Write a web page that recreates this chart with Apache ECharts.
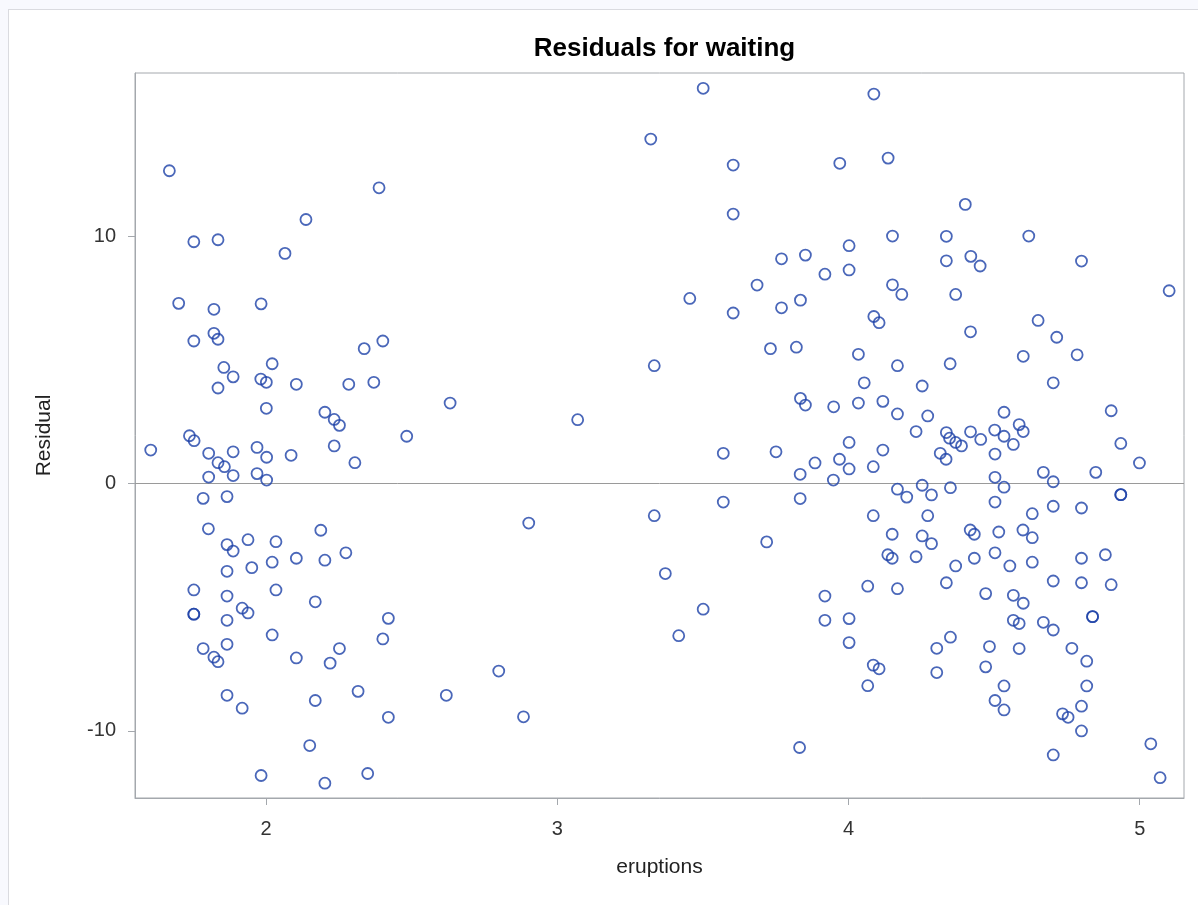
<!DOCTYPE html>
<html>
<head>
<meta charset="utf-8">
<title>Residuals for waiting</title>
<script src="https://cdn.jsdelivr.net/npm/echarts@6/dist/echarts.min.js"></script>
<style>
  html, body { margin: 0; padding: 0; background: #f8f9fe; overflow: hidden; }
  #panel { position: absolute; left: 8px; top: 9px; width: 1200px; height: 900px;
           background: #ffffff; border-left: 1px solid #dadbe0; border-top: 1px solid #dadbe0; }
  #chart { position: absolute; left: 0; top: 0; width: 1198px; height: 905px; }
</style>
</head>
<body>
<div id="panel"></div>
<div id="chart"></div>
<script>
// Eruption duration (minutes) for each observation
const eruptions = [
  1.668, 2.388, 2.137, 1.752, 1.835, 2.065, 1.700, 1.821, 1.983, 1.752,
  1.821, 1.835, 2.337, 2.401, 1.855, 1.887, 2.021, 1.982, 2.001, 2.104,
  2.284, 2.370, 1.835, 2.632, 2.001, 2.202, 2.234, 2.252, 2.483, 1.737,
  1.753, 2.234, 1.604, 1.803, 1.887, 1.969, 2.002, 2.086, 2.305, 1.835,
  1.857, 1.803, 1.887, 1.969, 2.002, 1.784, 1.866, 1.802, 2.188, 1.866,
  1.887, 1.938, 2.034, 2.274, 2.021, 2.104, 2.202, 1.866, 1.951, 1.752,
  1.866, 2.034, 2.169, 1.752, 1.752, 1.918, 1.938, 1.866, 2.420, 2.021,
  2.401, 1.784, 1.821, 1.835, 1.866, 2.104, 2.252, 2.220, 1.866, 1.918,
  2.169, 2.316, 2.619, 2.420, 2.150, 1.983, 2.202, 2.349, 2.902, 2.799,
  2.884, 3.070,
  3.501, 3.321, 3.604, 3.604, 3.770, 3.686, 3.455, 3.604, 3.770, 3.732,
  3.333, 4.087, 3.970, 4.136, 4.401, 4.151, 4.336, 4.002, 3.852, 3.919,
  4.002, 4.336, 4.420, 4.452, 4.151, 4.183, 4.368, 3.835, 4.087, 4.105,
  4.419, 3.821, 4.034, 4.168, 4.349, 4.054, 4.253, 3.835, 3.852, 3.949,
  4.034, 4.118, 4.168, 4.272, 4.232, 4.336, 4.419, 4.454, 4.002, 4.619,
  4.800, 5.101, 4.651, 4.715, 4.600, 4.785, 4.703, 4.534, 4.902, 4.502,
  4.534, 4.586, 4.600, 4.566, 4.935, 3.570, 3.751, 3.834, 3.570, 3.333,
  3.834, 3.719, 3.371, 3.501, 3.417, 3.832, 4.347, 4.368, 4.388, 4.118,
  4.315, 4.335, 3.885, 3.969, 4.002, 4.085, 3.948, 4.168, 4.200, 4.253,
  4.285, 4.350, 4.085, 4.272, 4.150, 4.253, 4.285, 4.418, 4.432, 4.135,
  4.150, 4.232, 4.368, 4.432, 4.336, 4.066, 4.168, 3.919, 3.919, 4.002,
  4.002, 4.350, 4.303, 4.085, 4.105, 4.303, 4.066, 4.503, 4.999, 4.669,
  4.703, 4.849, 4.503, 4.534, 4.503, 4.631, 4.703, 4.800, 4.935, 4.935,
  4.516, 4.599, 4.631, 4.503, 4.554, 4.631, 4.800, 4.882, 4.703, 4.800,
  4.902, 4.471, 4.566, 4.600, 4.838, 4.838, 4.566, 4.586, 4.669, 4.703,
  4.484, 4.586, 4.767, 4.818, 4.471, 4.534, 4.818, 4.503, 4.534, 4.800,
  4.735, 4.754, 4.800, 4.703, 5.038, 5.070
];

// Residual of waiting time (minutes) from the fitted line, same order
const residuals = [
  12.64, 11.95, 10.67, 9.77, 9.85, 9.30, 7.28, 7.04, 7.26, 5.76,
  6.07, 5.83, 5.45, 5.76, 4.69, 4.31, 4.84, 4.22, 4.09, 4.01,
  4.01, 4.09, 3.86, 3.25, 3.04, 2.88, 2.59, 2.35, 1.91, 1.93,
  1.73, 1.52, 1.35, 1.22, 1.28, 1.46, 1.06, 1.14, 0.84, 0.84,
  0.68, 0.26, 0.32, 0.40, 0.14, -0.60, -0.53, -1.83, -1.89, -2.47,
  -2.73, -2.27, -2.35, -2.80, -3.18, -3.02, -3.10, -3.55, -3.40, -4.30,
  -4.55, -4.30, -4.78, -5.28, -5.28, -5.04, -5.23, -5.53, -5.45, -6.12,
  -6.28, -6.67, -7.02, -7.20, -6.50, -7.05, -6.67, -7.26, -8.56, -9.08,
  -8.77, -8.40, -8.56, -9.45, -10.59, -11.80, -12.11, -11.72, -1.60, -7.58,
  -9.43, 2.58,
  15.97, 13.92, 12.87, 10.89, 9.08, 8.02, 7.48, 6.89, 7.10, 5.45,
  4.76, 15.74, 12.94, 13.15, 11.28, 10.00, 9.99, 9.61, 9.23, 8.46,
  8.63, 9.00, 9.18, 8.79, 8.03, 7.64, 7.64, 7.41, 6.75, 6.50,
  6.13, 5.51, 5.22, 4.76, 4.84, 4.07, 3.94, 3.44, 3.17, 3.10,
  3.25, 3.32, 2.81, 2.73, 2.10, 2.06, 2.09, 1.78, 1.66, 10.00,
  8.99, 7.79, 6.59, 5.91, 5.14, 5.20, 4.07, 2.88, 2.94, 2.16,
  1.91, 2.38, 2.10, 1.58, 1.62, 1.22, 1.28, 0.37, -0.75, -1.30,
  -0.61, -2.36, -3.64, -5.08, -6.15, -10.67, 1.83, 1.66, 1.52, 1.35,
  1.22, 0.98, 0.83, 0.98, 0.59, 0.68, 0.14, -0.23, -0.55, -0.07,
  -0.46, -0.17, -1.30, -1.30, -2.05, -2.12, -2.43, -1.88, -2.05, -2.88,
  -3.02, -2.96, -3.33, -3.02, -4.01, -4.15, -4.25, -4.55, -5.53, -5.46,
  -6.43, -6.21, -6.66, -7.34, -7.49, -7.64, -8.17, 1.19, 0.83, 0.45,
  0.07, 0.45, 0.25, -0.15, -0.75, -1.22, -0.92, -0.99, -0.45, -0.45,
  -1.96, -1.88, -2.19, -2.80, -3.33, -3.18, -3.02, -2.88, -3.94, -4.01,
  -4.09, -4.45, -4.52, -4.84, -5.38, -5.38, -5.53, -5.66, -5.61, -5.92,
  -6.59, -6.67, -6.66, -7.18, -7.41, -8.18, -8.18, -8.77, -9.15, -9.00,
  -9.31, -9.45, -10.00, -10.97, -10.52, -11.89
];

// Axis ranges and tick values
const xRange = [1.550, 5.152];
const yRange = [-12.71, 16.59];
const xTicks = [2, 3, 4, 5];
const yTicks = [-10, 0, 10];

const points = eruptions.map((e, i) => [e, residuals[i]]);

const FRAME = '#a4a8ad';
const FONT = '"Liberation Sans", Arial, sans-serif';

const chart = echarts.init(document.getElementById('chart'), null, { renderer: 'canvas' });
chart.setOption({
  animation: false,
  title: {
    text: 'Residuals for waiting',
    left: 659.5,
    textAlign: 'center',
    top: 31,
    textStyle: { fontFamily: FONT, fontSize: 26, fontWeight: 'bold', color: '#000000' }
  },
  grid: {
    left: 135, top: 73, width: 1049, height: 725,
    show: true, borderColor: FRAME, borderWidth: 1, backgroundColor: '#ffffff'
  },
  xAxis: {
    type: 'value',
    min: xRange[0], max: xRange[1],
    name: 'eruptions',
    nameLocation: 'middle',
    nameGap: 59,
    nameTextStyle: { fontFamily: FONT, fontSize: 21, color: '#222222' },
    axisLine: { show: true, onZero: false, lineStyle: { color: FRAME, width: 1 } },
    axisTick: { show: true, length: 7, customValues: xTicks, lineStyle: { color: FRAME } },
    axisLabel: { customValues: xTicks, margin: 21, fontFamily: FONT, fontSize: 20, color: '#333333' },
    splitLine: { show: false }
  },
  yAxis: {
    type: 'value',
    min: yRange[0], max: yRange[1],
    name: 'Residual',
    nameLocation: 'middle',
    nameGap: 80,
    nameRotate: 90,
    nameTextStyle: { fontFamily: FONT, fontSize: 21, color: '#222222' },
    axisLine: { show: true, onZero: false, lineStyle: { color: FRAME, width: 1 } },
    axisTick: { show: true, length: 7, customValues: yTicks, lineStyle: { color: FRAME } },
    axisLabel: { customValues: yTicks, margin: 19, fontFamily: FONT, fontSize: 20, color: '#333333' },
    splitLine: { show: false }
  },
  series: [{
    type: 'scatter',
    data: points,
    symbol: 'circle',
    symbolSize: 11,
    itemStyle: { color: 'rgba(0,0,0,0)', borderColor: '#1d41a8', borderWidth: 1.8 },
    emphasis: { disabled: true },
    markLine: {
      silent: true,
      symbol: ['none', 'none'],
      label: { show: false },
      lineStyle: { color: '#9a9a9a', width: 1, type: 'solid' },
      data: [{ yAxis: 0 }],
      z: 1
    }
  }]
});
</script>
</body>
</html>
